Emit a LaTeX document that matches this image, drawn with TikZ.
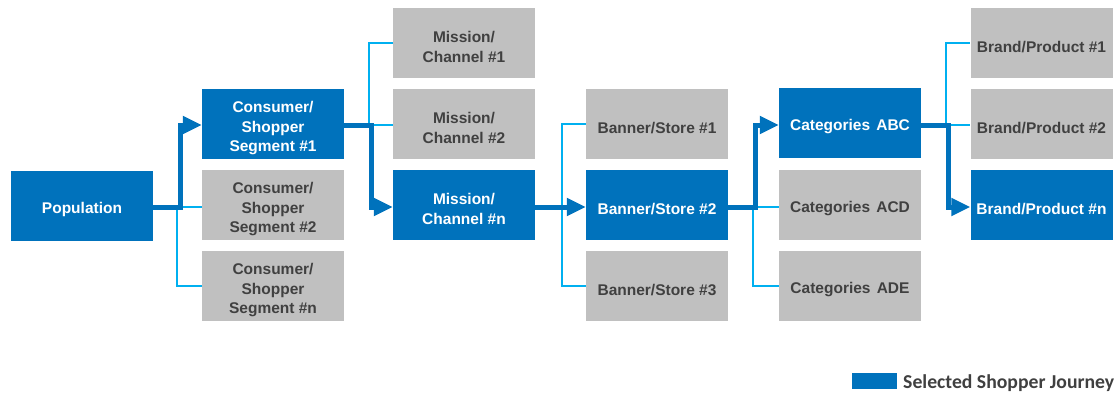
\documentclass[tikz,border=0pt]{standalone}
\usepackage{fontspec}
\setmainfont{Liberation Sans}
\newfontfamily\legfont{Carlito}
\usetikzlibrary{arrows.meta}
\definecolor{selblue}{RGB}{0,114,188}
\definecolor{lineblue}{RGB}{0,176,240}
\definecolor{boxgray}{RGB}{192,192,192}
\definecolor{txtgray}{RGB}{64,64,64}
\tikzset{
 box/.style={minimum width=142pt, minimum height=70pt, inner sep=0pt, align=center,
   font=\bfseries\fontsize{15.5}{19.3}\selectfont,
   execute at begin node={\rule{0pt}{18.5pt}}},
 twolines/.style={execute at begin node={\rule{0pt}{38.6pt}}},
 threelines/.style={execute at begin node={\rule{0pt}{58pt}}},
 sel/.style={box, fill=selblue, text=white},
 alt/.style={box, fill=boxgray, text=txtgray},
 mainline/.style={draw=selblue, line width=5pt, -{Triangle[length=19pt,width=17pt]}},
 subline/.style={draw=lineblue, line width=2pt},
}
\begin{document}
\begin{tikzpicture}[x=1pt,y=-1pt]
\useasboundingbox (0,0) rectangle (1119,394);
% nodes
\node[sel] (pop) at (82,206) {Population};
\node[sel, threelines] (cons1) at (273,124) {Consumer/\\Shopper\\Segment \#1};
\node[alt, threelines] (cons2) at (273,205) {Consumer/\\Shopper\\Segment \#2};
\node[alt, threelines] (consn) at (273,286) {Consumer/\\Shopper\\Segment \#n};
\node[alt, twolines] (mis1) at (464,43) {Mission/\\Channel \#1};
\node[alt, twolines] (mis2) at (464,124) {Mission/\\Channel \#2};
\node[sel, twolines] (misn) at (464,205) {Mission/\\Channel \#n};
\node[alt] (ban1) at (657,124) {Banner/Store \#1};
\node[sel] (ban2) at (657,205) {Banner/Store \#2};
\node[alt] (ban3) at (657,286) {Banner/Store \#3};
\node[sel] (cat1) at (850,123) {Categories\hspace{.4em}ABC};
\node[alt] (cat2) at (850,205) {Categories\hspace{.4em}ACD};
\node[alt] (cat3) at (850,286) {Categories\hspace{.4em}ADE};
\node[alt] (br1) at (1041.5,43) {Brand/Product \#1};
\node[alt] (br2) at (1041.5,124) {Brand/Product \#2};
\node[sel] (brn) at (1041.5,205) {Brand/Product \#n};
% junctions
\coordinate (j1) at (177,207);
\coordinate (k1) at (180,207);
\coordinate (j2) at (369,125);
\coordinate (k2) at (371,125);
\coordinate (j3) at (562,207);
\coordinate (j4) at (753,207);
\coordinate (k4) at (755,207);
\coordinate (j5) at (946,125);
\coordinate (k5) at (948,125);
% light branches
\draw[subline] (j1) -- (j1 -| cons2.west);
\draw[subline] (j1) |- (consn.west);
\draw[subline] (cons1.east |- j2) -- (j2 -| mis2.west);
\draw[subline] (j2) |- (mis1.west);
\draw[subline] (j3) |- (ban1.west);
\draw[subline] (j3) |- (ban3.west);
\draw[subline] (ban2.east |- j4) -- (j4 -| cat2.west);
\draw[subline] (j4) |- (cat3.west);
\draw[subline] (cat1.east |- j5) -- (j5 -| br2.west);
\draw[subline] (j5) |- (br1.west);
% selected journey
\draw[mainline] (pop.east |- k1) -- (k1) |- (cons1.west |- k2);
\draw[mainline] (cons1.east |- k2) -- (k2) |- (misn.west |- k1);
\draw[mainline] (misn.east |- j3) -- (ban2.west |- j3);
\draw[mainline] (ban2.east |- k4) -- (k4) |- (cat1.west |- k5);
\draw[mainline] (cat1.east |- k5) -- (k5) |- (brn.west |- k4);
% legend
\node[fill=selblue, minimum width=45pt, minimum height=16pt, inner sep=0pt] (legbox) at (874.5,381) {};
\node[anchor=west, inner sep=0pt, text=txtgray, font=\legfont\bfseries\fontsize{19.7}{21}\selectfont] (legtext) at (903,383) {Selected Shopper Journey};
\end{tikzpicture}
\end{document}
